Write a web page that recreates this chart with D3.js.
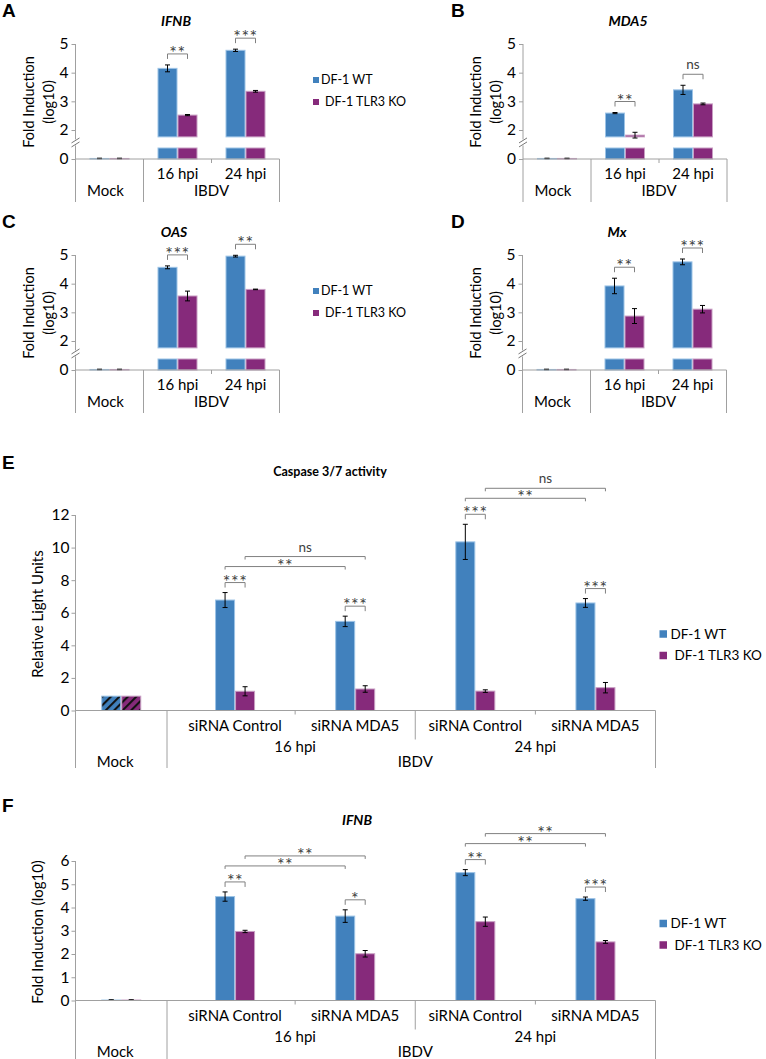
<!DOCTYPE html>
<html>
<head>
<meta charset="utf-8">
<script src="https://cdn.jsdelivr.net/npm/d3@7"></script>
<style>
  body { margin: 0; background: #fff; }
  svg { font-family: Lato, "Open Sans", sans-serif; }
</style>
</head>
<body>
<script>
// ---- data ----
const seriesNames = ["DF-1 WT", "DF-1 TLR3 KO"];
const timeCats = ["Mock", "16 hpi", "24 hpi"];

const ifnbWT = [0.02, 4.15, 4.78];
const ifnbWTErr = [0.01, 0.12, 0.04];
const ifnbKO = [0.02, 2.52, 3.35];
const ifnbKOErr = [0.01, 0.02, 0.03];
const ifnbSig = ["", "**", "***"];

const mda5WT = [0.02, 2.59, 3.40];
const mda5WTErr = [0.01, 0.02, 0.16];
const mda5KO = [0.02, 1.82, 2.91];
const mda5KOErr = [0.01, 0.10, 0.03];
const mda5Sig = ["", "**", "ns"];

const oasWT = [0.02, 4.57, 4.96];
const oasWTErr = [0.01, 0.05, 0.03];
const oasKO = [0.02, 3.57, 3.80];
const oasKOErr = [0.01, 0.17, 0.01];
const oasSig = ["", "***", "**"];

const mxWT = [0.02, 3.92, 4.76];
const mxWTErr = [0.01, 0.27, 0.10];
const mxKO = [0.02, 2.87, 3.11];
const mxKOErr = [0.01, 0.26, 0.13];
const mxSig = ["", "**", "***"];

const siCats = ["Mock", "siRNA Control", "siRNA MDA5", "siRNA Control", "siRNA MDA5"];
const siTimes = ["16 hpi", "24 hpi"];

const caspWT = [0.88, 6.78, 5.47, 10.35, 6.60];
const caspWTErr = [0, 0.46, 0.32, 1.08, 0.27];
const caspKO = [0.88, 1.18, 1.32, 1.19, 1.40];
const caspKOErr = [0, 0.28, 0.20, 0.08, 0.32];
const caspPairSig = ["", "***", "***", "***", "***"];
const caspLongSig = [["**", "ns"], ["**", "ns"]];
const caspTicks = [0, 2, 4, 6, 8, 10, 12];

const ifnbFWT = [0.02, 4.47, 3.63, 5.50, 4.38];
const ifnbFWTErr = [0.01, 0.20, 0.27, 0.13, 0.07];
const ifnbFKO = [0.02, 2.97, 2.01, 3.39, 2.52];
const ifnbFKOErr = [0.01, 0.05, 0.14, 0.20, 0.06];
const ifnbFPairSig = ["", "**", "*", "**", "***"];
const ifnbFLongSig = [["**", "**"], ["**", "**"]];
const ifnbFTicks = [0, 1, 2, 3, 4, 5, 6];

// ---- styles ----
const colors = ["#4181BD", "#862A7B"];
const edges = ["#9CC3E6", "#C89EC3"];
const axisColor = "#A0A0A0";
const bracketColor = "#808080";

const svg = d3.select("body").append("svg")
    .attr("width", 766)
    .attr("height", 1059);

const defs = svg.append("defs");
colors.forEach((c, i) => {
  const pat = defs.append("pattern")
      .attr("id", "hatch" + i)
      .attr("width", 6).attr("height", 6)
      .attr("patternUnits", "userSpaceOnUse")
      .attr("patternTransform", "rotate(45)");
  pat.append("rect").attr("width", 6).attr("height", 6).attr("fill", c);
  pat.append("line").attr("x1", 1).attr("y1", 0).attr("x2", 1).attr("y2", 6)
      .attr("stroke", "#111").attr("stroke-width", 2.2);
});

function vline(g, x, y1, y2, col) {
  g.append("line").attr("x1", x).attr("x2", x).attr("y1", y1).attr("y2", y2)
      .attr("stroke", col || axisColor).attr("stroke-width", 1);
}
function hline(g, x1, x2, y, col) {
  g.append("line").attr("x1", x1).attr("x2", x2).attr("y1", y).attr("y2", y)
      .attr("stroke", col || axisColor).attr("stroke-width", 1);
}

function sigLabel(g, x, y, label) {
  const t = g.append("text")
      .attr("x", x)
      .attr("text-anchor", "middle")
      .attr("fill", "#404040")
      .text(label);
  if (label === "ns") {
    t.attr("y", y - 4).attr("font-size", 13.5);
  } else {
    t.attr("y", y + 6).attr("font-size", 18).attr("letter-spacing", 0.5);
  }
}

function bracket(g, x1, x2, yBottom, yLine, label) {
  g.append("path")
      .attr("d", `M${x1},${yBottom}V${yLine}H${x2}V${yBottom}`)
      .attr("fill", "none")
      .attr("stroke", bracketColor)
      .attr("stroke-width", 1);
  sigLabel(g, (x1 + x2) / 2, yLine - 1, label);
}

function errorBar(g, cx, yHi, yLo) {
  g.append("path")
      .attr("d", `M${cx},${yHi}V${yLo}M${cx - 2.5},${yHi}h5M${cx - 2.5},${yLo}h5`)
      .attr("stroke", "#000").attr("stroke-width", 1).attr("fill", "none");
}

function legend(g, x, y1, y2, fs, sq, dx) {
  [y1, y2].forEach((yy, i) => {
    g.append("rect").attr("x", x).attr("y", yy - sq / 2).attr("width", sq).attr("height", sq)
        .attr("fill", colors[i]);
    g.append("text").attr("x", x + dx[i]).attr("y", yy).attr("dy", "0.35em")
        .attr("font-size", fs).attr("fill", "#000").text(seriesNames[i]);
  });
}

function panelLetter(x, y, l) {
  svg.append("text").attr("x", x).attr("y", y)
      .attr("font-family", "Liberation Sans, Arial, sans-serif")
      .attr("font-weight", "bold").attr("font-size", 19).text(l);
}

// ---- panels A-D: broken y axis ----
function drawBrokenPanel(p) {
  const g = svg.append("g");
  const off = p.off;
  const y0 = off + 159;
  const cut = 1.76;
  const x = d3.scaleBand().domain(timeCats).range([p.x0, p.x0 + 204]);
  const xs = d3.scaleBand().domain([0, 1]).range([14, 54]);
  const yU = d3.scaleLinear().domain([2, 5]).range([off + 130, off + 44]);
  const yL = d3.scaleLinear().domain([0, 0.4]).range([y0, y0 - 11]).clamp(true);

  const rows = timeCats.flatMap((c, i) => [
    {c, i, s: 0, v: p.wt[i], e: p.wtErr[i]},
    {c, i, s: 1, v: p.ko[i], e: p.koErr[i]}
  ]);

  // lower stubs
  g.selectAll(".lo").data(rows).join("rect")
      .attr("x", d => x(d.c) + xs(d.s) + 0.5)
      .attr("width", xs.bandwidth() - 1)
      .attr("y", d => yL(d.v))
      .attr("height", d => y0 - yL(d.v))
      .attr("fill", d => colors[d.s])
      .attr("stroke", d => edges[d.s]).attr("stroke-width", 1);

  // upper bars
  const up = rows.filter(d => d.v > cut);
  g.selectAll(".up").data(up).join("rect")
      .attr("x", d => x(d.c) + xs(d.s) + 0.5)
      .attr("width", xs.bandwidth() - 1)
      .attr("y", d => yU(d.v))
      .attr("height", d => yU(cut) - yU(d.v))
      .attr("fill", d => colors[d.s])
      .attr("stroke", d => edges[d.s]).attr("stroke-width", 1);

  rows.forEach(d => {
    const cx = x(d.c) + xs(d.s) + xs.bandwidth() / 2;
    if (d.v > cut) errorBar(g, cx, yU(d.v + d.e), yU(d.v - d.e));
    else errorBar(g, cx, yL(d.v + d.e), yL(Math.max(0, d.v - d.e)));
  });

  // y axis
  const ax = g.append("g").attr("transform", `translate(${p.x0},0)`);
  ax.append("g").call(d3.axisLeft(yU).tickValues([2, 3, 4, 5]).tickSize(4).tickPadding(3).tickFormat(d3.format("d")));
  ax.append("g").call(d3.axisLeft(yL).tickValues([0]).tickSize(4).tickPadding(3).tickFormat(d3.format("d")));
  ax.selectAll(".domain").remove();
  ax.selectAll(".tick line").attr("stroke", axisColor);
  ax.selectAll(".tick text").attr("font-size", 15.5).attr("fill", "#000").attr("font-family", "Lato, sans-serif");

  const mid = (yU(cut) + yL(0.4)) / 2;
  vline(g, p.x0, yU(5), mid - 3);
  vline(g, p.x0, mid + 3, y0 + 43);
  [-2, 2].forEach(o => {
    g.append("line").attr("x1", p.x0 - 4).attr("y1", mid + o + 2.5)
        .attr("x2", p.x0 + 4).attr("y2", mid + o - 2.5)
        .attr("stroke", "#777").attr("stroke-width", 1);
  });

  // category axis
  hline(g, p.x0, p.x0 + 204, y0);
  vline(g, x("16 hpi"), y0, y0 + 43);
  vline(g, x("24 hpi"), y0, y0 + 4);
  vline(g, p.x0 + 204, y0, y0 + 43);
  ["16 hpi", "24 hpi"].forEach(c => {
    g.append("text").attr("x", x(c) + x.bandwidth() / 2).attr("y", y0 + 15)
        .attr("dy", "0.35em").attr("text-anchor", "middle").attr("font-size", 15).text(c);
  });
  g.append("text").attr("x", x("Mock") + x.bandwidth() / 2 - 4).attr("y", y0 + 32)
      .attr("dy", "0.35em").attr("text-anchor", "middle").attr("font-size", 15).text("Mock");
  g.append("text").attr("x", x("16 hpi") + x.bandwidth()).attr("y", y0 + 32)
      .attr("dy", "0.35em").attr("text-anchor", "middle").attr("font-size", 15).text("IBDV");

  // significance
  [1, 2].forEach(i => {
    const c = timeCats[i];
    const top = Math.max(p.wt[i] + p.wtErr[i], p.ko[i] + p.koErr[i]);
    const tb = yU(top) - 6;
    bracket(g, x(c) + xs(0) + 10, x(c) + xs(1) + 10, tb, tb - 5, p.sig[i]);
  });

  // titles
  g.append("text").attr("x", p.titleX).attr("y", off + 21).attr("dy", "0.35em")
      .attr("text-anchor", "middle").attr("font-weight", "bold").attr("font-style", "italic")
      .attr("font-size", 14).text(p.title);
  const yc = off + 102;
  g.append("text").attr("transform", `translate(${p.x0 - 47},${yc}) rotate(-90)`)
      .attr("text-anchor", "middle").attr("dy", "0.35em").attr("font-size", 14.5).text("Fold Induction");
  g.append("text").attr("transform", `translate(${p.x0 - 27},${yc}) rotate(-90)`)
      .attr("text-anchor", "middle").attr("dy", "0.35em").attr("font-size", 14.5).text("(log10)");

  if (p.legend) legend(g, 313, off + 80, off + 102, 12.5, 6, [8, 12]);
  panelLetter(p.lx, off + 17, p.letter);
}

drawBrokenPanel({letter: "A", lx: 2, off: 0, x0: 75.5, title: "IFNB", titleX: 176,
  wt: ifnbWT, wtErr: ifnbWTErr, ko: ifnbKO, koErr: ifnbKOErr, sig: ifnbSig, legend: true});
drawBrokenPanel({letter: "B", lx: 451, off: 0, x0: 523, title: "MDA5", titleX: 628,
  wt: mda5WT, wtErr: mda5WTErr, ko: mda5KO, koErr: mda5KOErr, sig: mda5Sig, legend: false});
drawBrokenPanel({letter: "C", lx: 2, off: 211, x0: 75.5, title: "OAS", titleX: 174,
  wt: oasWT, wtErr: oasWTErr, ko: oasKO, koErr: oasKOErr, sig: oasSig, legend: true});
drawBrokenPanel({letter: "D", lx: 451, off: 211, x0: 522.5, title: "Mx", titleX: 617,
  wt: mxWT, wtErr: mxWTErr, ko: mxKO, koErr: mxKOErr, sig: mxSig, legend: false});

// ---- panels E, F: siRNA experiments ----
function drawSiPanel(p) {
  const g = svg.append("g");
  const x0 = 75.5, xEnd = 655.5;
  const y0 = p.y0;
  const xm = d3.scaleBand().domain(["Mock"]).range([x0, 167]);
  const xsi = d3.scaleBand().domain([1, 2, 3, 4]).range([175, xEnd]);
  const left = i => i === 0 ? xm("Mock") + (xm.bandwidth() - 40) / 2 : xsi(i) + (xsi.bandwidth() - 40) / 2;
  const y = d3.scaleLinear().domain([0, p.max]).range([y0, p.yTop]);

  const rows = siCats.flatMap((c, i) => [
    {i, s: 0, v: p.wt[i], e: p.wtErr[i]},
    {i, s: 1, v: p.ko[i], e: p.koErr[i]}
  ]);

  g.selectAll(".bar").data(rows).join("rect")
      .attr("x", d => left(d.i) + d.s * 20 + 0.5)
      .attr("width", 19)
      .attr("y", d => y(d.v))
      .attr("height", d => y0 - y(d.v))
      .attr("fill", d => (d.i === 0 && p.hatchMock) ? `url(#hatch${d.s})` : colors[d.s])
      .attr("stroke", d => edges[d.s]).attr("stroke-width", 1);

  rows.forEach(d => {
    if (d.e > 0) errorBar(g, left(d.i) + d.s * 20 + 10, y(d.v + d.e), y(Math.max(0, d.v - d.e)));
  });

  // y axis
  const ax = g.append("g").attr("transform", `translate(${x0},0)`)
      .call(d3.axisLeft(y).tickValues(p.ticks).tickSize(4).tickPadding(2).tickFormat(d3.format("d")));
  ax.select(".domain").remove();
  ax.selectAll(".tick line").attr("stroke", axisColor);
  ax.selectAll(".tick text").attr("font-size", 15.5).attr("fill", "#000").attr("font-family", "Lato, sans-serif");
  vline(g, x0, p.yTop, p.bottom);

  // category axis
  hline(g, x0, xEnd, y0);
  vline(g, 167, y0, p.bottom);
  vline(g, xEnd, y0, p.bottom);
  vline(g, xsi(3), y0, y0 + 29);
  [2, 4].forEach(i => vline(g, xsi(i), y0, y0 + 4));
  [1, 2, 3, 4].forEach(i => {
    g.append("text").attr("x", xsi(i) + xsi.bandwidth() / 2).attr("y", y0 + 15)
        .attr("dy", "0.35em").attr("text-anchor", "middle").attr("font-size", 15).text(siCats[i]);
  });
  siTimes.forEach((t, k) => {
    g.append("text").attr("x", xsi(1 + 2 * k) + xsi.bandwidth()).attr("y", y0 + 36)
        .attr("dy", "0.35em").attr("text-anchor", "middle").attr("font-size", 15).text(t);
  });
  g.append("text").attr("x", xsi(3)).attr("y", y0 + 51)
      .attr("dy", "0.35em").attr("text-anchor", "middle").attr("font-size", 15).text("IBDV");
  g.append("text").attr("x", xm("Mock") + xm.bandwidth() / 2 - 6).attr("y", y0 + 51)
      .attr("dy", "0.35em").attr("text-anchor", "middle").attr("font-size", 15).text("Mock");

  // pair brackets
  const pairLine = {};
  [1, 2, 3, 4].forEach(i => {
    const top = Math.max(p.wt[i] + p.wtErr[i], p.ko[i] + p.koErr[i]);
    const tb = y(top) - 5;
    pairLine[i] = tb - 5;
    bracket(g, left(i) + 10, left(i) + 30, tb, tb - 5, p.pairSig[i]);
  });
  // long brackets between siRNA Control and siRNA MDA5
  [0, 1].forEach(k => {
    const a = 1 + 2 * k, b = a + 1;
    const l1 = Math.min(pairLine[a], pairLine[b]) - 16;
    bracket(g, left(a) + 10, left(b) + 10, l1 + 3, l1, p.longSig[k][0]);
    const l2 = l1 - 10;
    bracket(g, left(a) + 30, left(b) + 30, l2 + 3, l2, p.longSig[k][1]);
  });

  // titles
  g.append("text").attr("x", p.titleX).attr("y", p.titleY).attr("dy", "0.35em")
      .attr("text-anchor", "middle").attr("font-weight", "bold")
      .attr("font-style", p.italic ? "italic" : "normal")
      .attr("font-size", p.titleSize).text(p.title);
  g.append("text").attr("transform", `translate(38,${p.ylabelY}) rotate(-90)`)
      .attr("text-anchor", "middle").attr("dy", "0.35em").attr("font-size", 15).text(p.ylabel);

  legend(g, 659.5, p.legendY, p.legendY + 21.5, 13.5, 7.5, [11, 15]);
  panelLetter(2, p.letterY, p.letter);
}

drawSiPanel({letter: "E", letterY: 469, y0: 710.5, yTop: 515, max: 12, ticks: caspTicks,
  bottom: 768, wt: caspWT, wtErr: caspWTErr, ko: caspKO, koErr: caspKOErr,
  pairSig: caspPairSig, longSig: caspLongSig, hatchMock: true,
  title: "Caspase 3/7 activity", titleX: 330, titleY: 472, titleSize: 12.5, italic: false,
  ylabel: "Relative Light Units", ylabelY: 614, legendY: 634});

drawSiPanel({letter: "F", letterY: 812, y0: 1000.5, yTop: 861, max: 6, ticks: ifnbFTicks,
  bottom: 1059, wt: ifnbFWT, wtErr: ifnbFWTErr, ko: ifnbFKO, koErr: ifnbFKOErr,
  pairSig: ifnbFPairSig, longSig: ifnbFLongSig, hatchMock: false,
  title: "IFNB", titleX: 357, titleY: 820, titleSize: 14, italic: true,
  ylabel: "Fold Induction (log10)", ylabelY: 932, legendY: 923.5});
</script>
</body>
</html>
